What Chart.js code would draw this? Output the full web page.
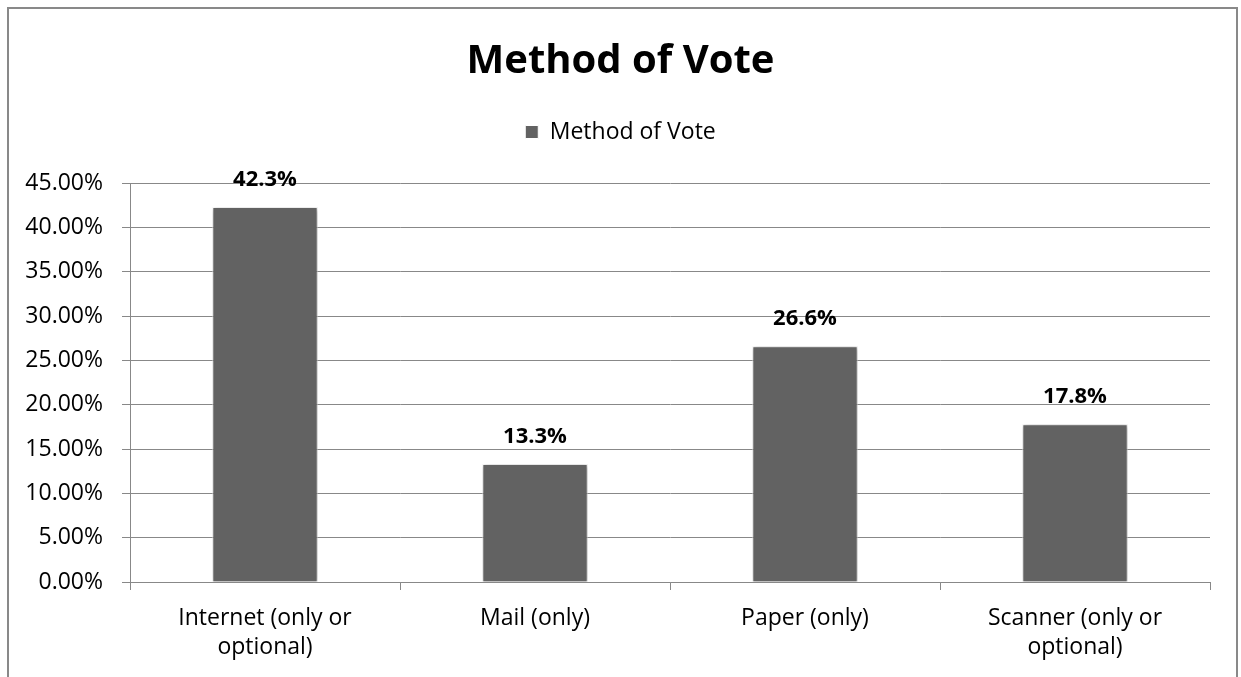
<!DOCTYPE html>
<html>
<head>
<meta charset="utf-8">
<title>Method of Vote</title>
<script src="https://cdn.jsdelivr.net/npm/chart.js@4.4.1/dist/chart.umd.min.js"></script>
<style>
  html, body { margin: 0; padding: 0; background: #fff; }
  canvas { display: block; }
</style>
</head>
<body>
<canvas id="voteChart" width="1241" height="677"></canvas>
<script>
// chart data
const categories = [
  ['Internet (only or', 'optional)'],
  'Mail (only)',
  'Paper (only)',
  ['Scanner (only or', 'optional)']
];
const voteShare = [42.3, 13.3, 26.6, 17.8];
const seriesName = 'Method of Vote';
const yMax = 45;
const yStep = 5;

Chart.defaults.font.family = '"Open Sans", "Noto Sans", sans-serif';
Chart.defaults.color = '#000';

// white background + grey frame round the whole chart
const frame = {
  id: 'frame',
  beforeDraw(chart) {
    const c = chart.ctx;
    c.save();
    c.fillStyle = '#fff';
    c.fillRect(0, 0, chart.width, chart.height);
    c.strokeStyle = '#898989';
    c.lineWidth = 2;
    c.strokeRect(8, 8, 1229, 720);
    c.restore();
  }
};

// extra room under the legend
const legendGap = {
  id: 'legendGap',
  afterInit(chart) {
    const fit = chart.legend.fit;
    chart.legend.fit = function () {
      fit.call(this);
      this.height += 29.5;
    };
  }
};

// soft shadow on the bars
const barShadow = {
  id: 'barShadow',
  beforeDatasetsDraw(chart) {
    const c = chart.ctx;
    c.save();
    c.shadowColor = 'rgba(0,0,0,0.35)';
    c.shadowBlur = 5;
    c.shadowOffsetX = 1;
    c.shadowOffsetY = 1;
  },
  afterDatasetsDraw(chart) {
    chart.ctx.restore();
  }
};

// value labels above each bar
const valueLabels = {
  id: 'valueLabels',
  afterDatasetsDraw(chart) {
    const c = chart.ctx;
    const meta = chart.getDatasetMeta(0);
    c.save();
    c.font = 'bold 22px "Open Sans", sans-serif';
    c.fillStyle = '#000';
    c.textAlign = 'center';
    c.textBaseline = 'middle';
    meta.data.forEach((bar, i) => {
      c.fillText(voteShare[i].toFixed(1) + '%', bar.x, bar.y - 27);
    });
    c.restore();
  }
};

const ctx = document.getElementById('voteChart').getContext('2d');

const voteChart = new Chart(ctx, {
  type: 'bar',
  data: {
    labels: categories,
    datasets: [{
      label: seriesName,
      data: voteShare,
      backgroundColor: '#626262',
      borderColor: '#ffffff',
      borderWidth: 1,
      categoryPercentage: 1,
      barPercentage: 0.39
    }]
  },
  options: {
    responsive: false,
    animation: false,
    layout: {
      padding: { top: 8, left: 22, right: 22, bottom: 0 }
    },
    plugins: {
      title: {
        display: true,
        text: 'Method of Vote',
        font: { size: 40, weight: 'bold' },
        color: '#000',
        padding: { top: 30, bottom: 6 }
      },
      legend: {
        display: true,
        labels: {
          boxWidth: 13,
          boxHeight: 13,
          padding: 28.5,
          font: { size: 23 },
          color: '#000'
        }
      },
      tooltip: { enabled: false }
    },
    scales: {
      x: {
        afterFit(scale) { scale.height = 95; },
        grid: {
          display: true,
          drawOnChartArea: false,
          tickLength: 8,
          color: '#888'
        },
        border: { display: true, color: '#888', width: 1 },
        ticks: {
          font: { size: 23, lineHeight: 1.27 },
          color: '#000',
          padding: 14,
          maxRotation: 0
        }
      },
      y: {
        min: 0,
        max: yMax,
        afterFit(scale) { scale.width = 108; },
        grid: {
          color: '#888',
          tickLength: 8
        },
        border: { display: true, color: '#888', width: 1 },
        ticks: {
          stepSize: yStep,
          font: { size: 23 },
          color: '#000',
          padding: 19,
          callback: v => v.toFixed(2) + '%'
        }
      },
      // empty spacer on the right so title and legend sit centred on the page
      spacer: {
        type: 'linear',
        position: 'right',
        afterFit(scale) { scale.width = 9; },
        grid: { display: false },
        border: { display: false },
        ticks: { display: false }
      }
    }
  },
  plugins: [frame, legendGap, barShadow, valueLabels]
});
</script>
</body>
</html>
